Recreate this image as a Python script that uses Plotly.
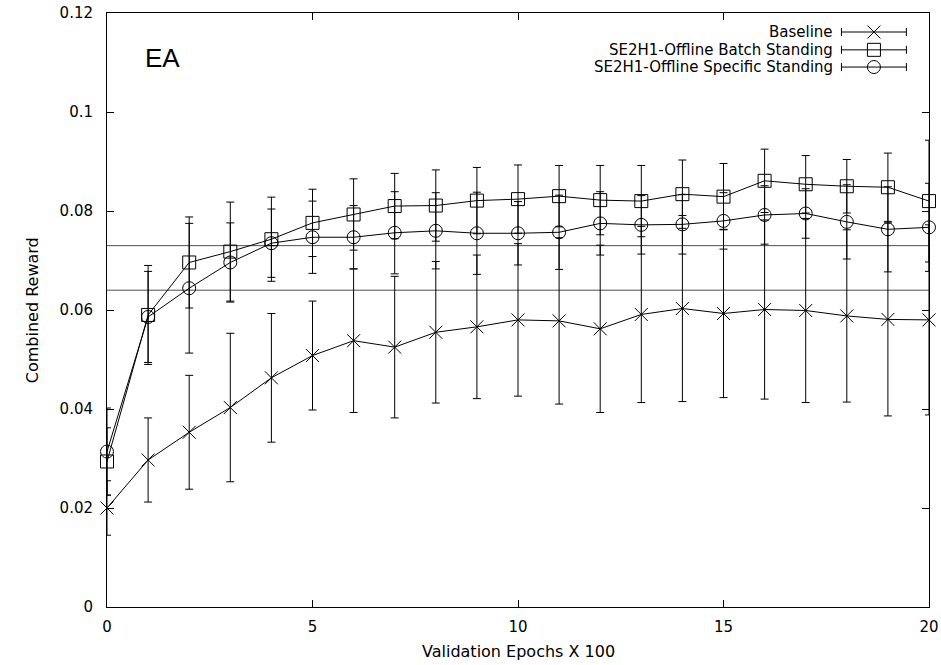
import plotly.graph_objects as go

epochs = list(range(21))
baseline = [0.0200, 0.0297, 0.0353, 0.0403, 0.0463, 0.0508, 0.0538, 0.0525, 0.0555, 0.0566, 0.0580,
            0.0578, 0.0562, 0.0591, 0.0603, 0.0593, 0.0601, 0.0599, 0.0588, 0.0581, 0.0580]
baseline_err = [0.0055, 0.0085, 0.0115, 0.0150, 0.0130, 0.0110, 0.0145, 0.0143, 0.0143, 0.0145, 0.0154,
                0.0168, 0.0169, 0.0178, 0.0188, 0.0170, 0.0181, 0.0186, 0.0174, 0.0195, 0.0192]
batch = [0.0294, 0.0590, 0.0696, 0.0718, 0.0743, 0.0776, 0.0793, 0.0810, 0.0811, 0.0821, 0.0824,
         0.0830, 0.0822, 0.0820, 0.0834, 0.0829, 0.0861, 0.0854, 0.0850, 0.0848, 0.0820]
batch_err = [0.0068, 0.0100, 0.0092, 0.0100, 0.0085, 0.0068, 0.0072, 0.0066, 0.0072, 0.0067, 0.0069,
             0.0062, 0.0070, 0.0072, 0.0069, 0.0067, 0.0064, 0.0058, 0.0054, 0.0069, 0.0123]
specific = [0.0314, 0.0586, 0.0644, 0.0696, 0.0735, 0.0747, 0.0747, 0.0756, 0.0760, 0.0755, 0.0755,
            0.0757, 0.0775, 0.0772, 0.0773, 0.0780, 0.0792, 0.0795, 0.0778, 0.0763, 0.0767]
specific_err = [0.0088, 0.0092, 0.0131, 0.0080, 0.0069, 0.0073, 0.0064, 0.0083, 0.0077, 0.0083, 0.0064,
                0.0075, 0.0064, 0.0059, 0.0060, 0.0057, 0.0059, 0.0050, 0.0075, 0.0086, 0.0089]
ref_levels = [0.073, 0.064]
x_range = [0, 20]

series_names = ["Baseline", "SE2H1-Offline Batch Standing", "SE2H1-Offline Specific Standing"]
series_values = [baseline, batch, specific]
series_errors = [baseline_err, batch_err, specific_err]
series_symbols = ["x-thin-open", "square-open", "circle-open"]
series_sizes = [13, 13, 13]

FONT = "DejaVu Sans"
fig = go.Figure()

for lvl in ref_levels:
    fig.add_trace(go.Scatter(x=x_range, y=[lvl, lvl], mode="lines",
                             line=dict(color="#4d4d4d", width=1), showlegend=False,
                             hoverinfo="skip"))

for name, vals, errs, sym, sz in zip(series_names, series_values, series_errors, series_symbols, series_sizes):
    fig.add_trace(go.Scatter(
        x=epochs, y=vals, name=name, mode="lines+markers",
        line=dict(color="black", width=1),
        marker=dict(symbol=sym, size=sz, color="black", line=dict(color="black", width=1)),
        error_y=dict(type="data", array=errs, visible=True, color="black", thickness=1, width=4),
        showlegend=False, cliponaxis=False,
    ))

# manual gnuplot-style legend (text right, sample with error bar on right)
leg_rows = [0.968, 0.938, 0.909]
for name, sym, sz, yy in zip(series_names, series_symbols, series_sizes, leg_rows):
    fig.add_trace(go.Scatter(
        x=[0.933], y=[yy], mode="markers", xaxis="x2", yaxis="y2",
        marker=dict(symbol=sym, size=sz, color="black", line=dict(color="black", width=1)),
        error_x=dict(type="constant", value=0.0395, visible=True, color="black", thickness=1, width=4),
        showlegend=False, hoverinfo="skip", cliponaxis=False,
    ))
    fig.add_annotation(x=0.886, y=yy, xref="x2", yref="y2", text=name, showarrow=False,
                       xanchor="right", yanchor="middle",
                       font=dict(family=FONT, size=15, color="black"))

fig.add_annotation(x=0.044, y=0.925, xref="paper", yref="paper", text="EA", showarrow=False,
                   xanchor="left", yanchor="middle",
                   font=dict(family="Liberation Sans", size=26, color="black"))

fig.add_annotation(x=0.5, y=-0.075, xref="paper", yref="paper", text="Validation Epochs X 100",
                   showarrow=False, xanchor="center", yanchor="middle",
                   font=dict(family=FONT, size=16, color="black"))
fig.add_annotation(x=-0.091, y=0.5, xref="paper", yref="paper", text="Combined Reward",
                   showarrow=False, textangle=-90, xanchor="center", yanchor="middle",
                   font=dict(family=FONT, size=16, color="black"))

axis_common = dict(showline=True, linecolor="black", linewidth=1, mirror="allticks",
                   ticks="inside", ticklen=7, tickwidth=1, tickcolor="black",
                   showgrid=False, zeroline=False, ticklabeloverflow="allow", automargin=False,
                   tickfont=dict(family=FONT, size=15, color="black"))

fig.update_layout(
    width=941, height=665, autosize=False,
    margin=dict(l=107, r=12, t=13, b=58),
    paper_bgcolor="white", plot_bgcolor="white",
    xaxis=dict(range=x_range, tickvals=[0, 5, 10, 15, 20], ticklabelstandoff=6, **axis_common),
    yaxis=dict(range=[0, 0.12], tickvals=[0, 0.02, 0.04, 0.06, 0.08, 0.1, 0.12],
               ticktext=["0", "0.02", "0.04", "0.06", "0.08", "0.1", "0.12"],
               ticklabelstandoff=10, **axis_common),
    xaxis2=dict(range=[0, 1], overlaying="x", visible=False, domain=[0, 1], automargin=False),
    yaxis2=dict(range=[0, 1], overlaying="y", visible=False, automargin=False),
    showlegend=False,
)

fig.write_html(
    "out.html",
    config={"responsive": False, "displayModeBar": False},
    post_script="document.body.style.margin='0';document.body.style.overflow='hidden';",
)
